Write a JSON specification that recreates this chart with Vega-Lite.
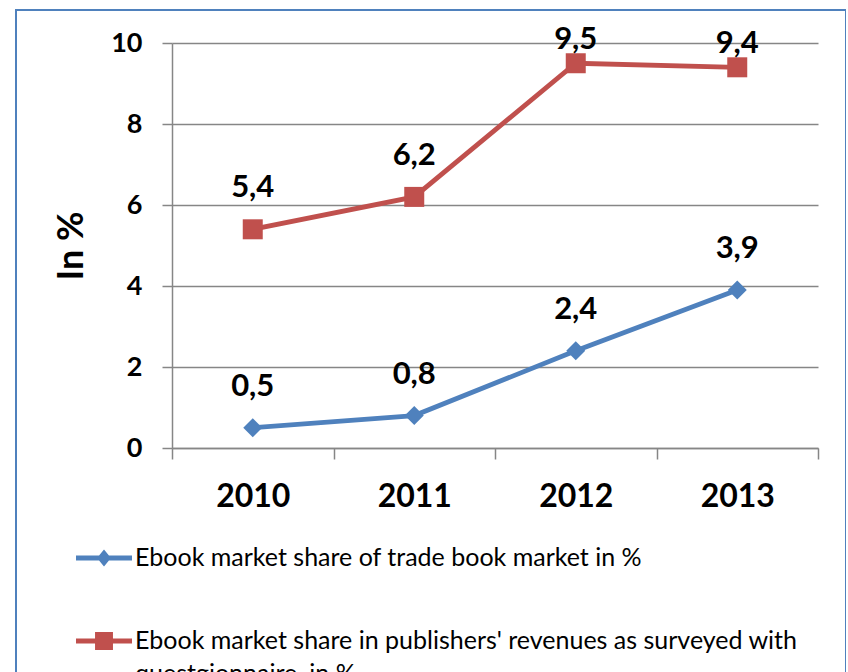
{
  "$schema": "https://vega.github.io/schema/vega-lite/v6.json",
  "width": 830,
  "height": 720,
  "autosize": {"type": "none"},
  "padding": {"left": 16, "top": 10, "right": 0, "bottom": 0},
  "background": "white",
  "config": {
    "font": "Lato",
    "locale": {"number": {"decimal": ",", "thousands": ".", "grouping": [3], "currency": ["", " €"]}},
    "view": {"stroke": "#4F81BD", "strokeWidth": 2},
    "style": {"guide-label": {"lineHeight": 33}},
    "legend": {
      "title": null,
      "orient": "none",
      "direction": "vertical",
      "legendX": 60,
      "legendY": 520,
      "symbolSize": 3136,
      "symbolStrokeWidth": 0,
      "labelFont": "Lato",
      "labelFontSize": 25,
      "labelColor": "#000000",
      "labelLimit": 0,
      "labelOffset": 3,
      "rowPadding": 42
    }
  },
  "data": {
    "values": [
      {"year": "2010", "series": "Ebook market share of trade book market in %", "value": 0.5},
      {"year": "2011", "series": "Ebook market share of trade book market in %", "value": 0.8},
      {"year": "2012", "series": "Ebook market share of trade book market in %", "value": 2.4},
      {"year": "2013", "series": "Ebook market share of trade book market in %", "value": 3.9},
      {"year": "2010", "series": "Ebook market share in publishers' revenues as surveyed with questgionnaire, in %", "value": 5.4},
      {"year": "2011", "series": "Ebook market share in publishers' revenues as surveyed with questgionnaire, in %", "value": 6.2},
      {"year": "2012", "series": "Ebook market share in publishers' revenues as surveyed with questgionnaire, in %", "value": 9.5},
      {"year": "2013", "series": "Ebook market share in publishers' revenues as surveyed with questgionnaire, in %", "value": 9.4}
    ]
  },
  "encoding": {
    "x": {
      "field": "year",
      "type": "nominal",
      "scale": {"type": "band", "range": [156, 802], "paddingInner": 0, "paddingOuter": 0},
      "axis": {
        "title": null,
        "orient": "bottom",
        "offset": -282,
        "tickBand": "extent",
        "grid": false,
        "tickSize": 11,
        "tickWidth": 1.5,
        "tickColor": "#868686",
        "domainColor": "#868686",
        "domainWidth": 1.5,
        "labelAngle": 0,
        "labelFont": "Lato",
        "labelFontSize": 32,
        "labelFontWeight": "bold",
        "labelColor": "#000000",
        "labelPadding": 22
      }
    },
    "y": {
      "field": "value",
      "type": "quantitative",
      "scale": {"domain": [0, 10], "range": [438, 33], "nice": false, "zero": true},
      "axis": {
        "title": "In %",
        "offset": -156,
        "values": [0, 2, 4, 6, 8, 10],
        "grid": true,
        "gridColor": "#868686",
        "gridWidth": 1.5,
        "tickSize": 10,
        "tickWidth": 1.5,
        "tickColor": "#868686",
        "domainColor": "#868686",
        "domainWidth": 1.5,
        "labelFont": "Lato",
        "labelFontSize": 27,
        "labelFontWeight": "bold",
        "labelColor": "#000000",
        "labelPadding": 20,
        "titleFont": "Lato",
        "titleFontSize": 36,
        "titleFontWeight": "bold",
        "titleColor": "#000000",
        "titlePadding": 20
      }
    },
    "color": {
      "field": "series",
      "type": "nominal",
      "scale": {
        "domain": ["Ebook market share of trade book market in %", "Ebook market share in publishers' revenues as surveyed with questgionnaire, in %"],
        "range": ["#4F81BD", "#C0504D"]
      },
      "legend": {
        "labelExpr": "datum.label === 'Ebook market share of trade book market in %' ? datum.label : [\"Ebook market share in publishers' revenues as surveyed with\", \"questgionnaire, in %\"]"
      }
    }
  },
  "layer": [
    {
      "mark": {"type": "line", "strokeWidth": 4.8}
    },
    {
      "transform": [{"filter": "datum.series === 'Ebook market share of trade book market in %'"}],
      "mark": {"type": "point", "filled": true, "opacity": 1, "shape": "diamond", "size": 361}
    },
    {
      "transform": [{"filter": "datum.series !== 'Ebook market share of trade book market in %'"}],
      "mark": {"type": "point", "filled": true, "opacity": 1, "shape": "square", "size": 400}
    },
    {
      "transform": [{"filter": "false"}],
      "mark": {"type": "point", "filled": true, "opacity": 1},
      "encoding": {
        "shape": {
          "field": "series",
          "type": "nominal",
          "scale": {
            "domain": ["Ebook market share of trade book market in %", "Ebook market share in publishers' revenues as surveyed with questgionnaire, in %"],
            "range": [
              "M-1,-0.09 L1,-0.09 L1,0.09 L-1,0.09 Z M-0.25,0 L0,-0.3 L0.25,0 L0,0.3 Z",
              "M-1,-0.09 L1,-0.09 L1,0.09 L-1,0.09 Z M-0.32,-0.32 L0.32,-0.32 L0.32,0.32 L-0.32,0.32 Z"
            ]
          },
          "legend": {
            "labelExpr": "datum.label === 'Ebook market share of trade book market in %' ? datum.label : [\"Ebook market share in publishers' revenues as surveyed with\", \"questgionnaire, in %\"]"
          }
        }
      }
    },
    {
      "transform": [{"filter": "datum.value < 9"}],
      "mark": {"type": "text", "font": "Lato", "fontSize": 31, "fontWeight": "bold", "align": "center", "baseline": "middle", "dy": -41},
      "encoding": {
        "text": {"field": "value", "type": "quantitative", "format": ".1f"},
        "color": {"value": "#000000"}
      }
    },
    {
      "transform": [{"filter": "datum.value >= 9"}],
      "mark": {"type": "text", "font": "Lato", "fontSize": 31, "fontWeight": "bold", "align": "center", "baseline": "middle", "dy": -23},
      "encoding": {
        "text": {"field": "value", "type": "quantitative", "format": ".1f"},
        "color": {"value": "#000000"}
      }
    }
  ]
}
